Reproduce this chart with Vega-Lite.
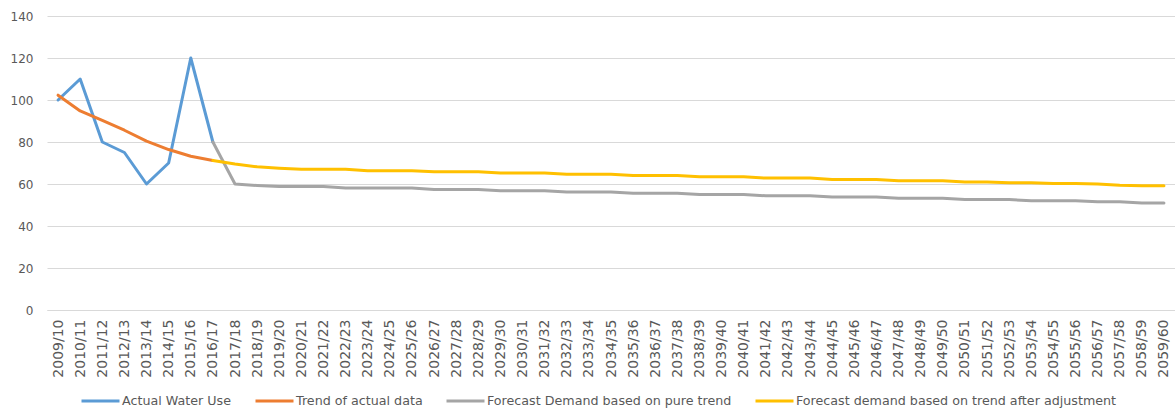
{
  "$schema": "https://vega.github.io/schema/vega-lite/v6.json",
  "width": 1128,
  "height": 294,
  "autosize": "none",
  "padding": {"left": 47, "top": 16, "right": 0, "bottom": 100},
  "background": "white",
  "config": {"view": {"stroke": null}, "font": "DejaVu Sans"},
  "data": {
    "values": [
      {"year": "2009/10", "series": "Actual Water Use", "value": 100},
      {"year": "2010/11", "series": "Actual Water Use", "value": 110},
      {"year": "2011/12", "series": "Actual Water Use", "value": 80},
      {"year": "2012/13", "series": "Actual Water Use", "value": 75},
      {"year": "2013/14", "series": "Actual Water Use", "value": 60},
      {"year": "2014/15", "series": "Actual Water Use", "value": 70},
      {"year": "2015/16", "series": "Actual Water Use", "value": 120},
      {"year": "2016/17", "series": "Actual Water Use", "value": 80},

      {"year": "2009/10", "series": "Trend of actual data", "value": 102.3},
      {"year": "2010/11", "series": "Trend of actual data", "value": 94.8},
      {"year": "2011/12", "series": "Trend of actual data", "value": 90.3},
      {"year": "2012/13", "series": "Trend of actual data", "value": 85.6},
      {"year": "2013/14", "series": "Trend of actual data", "value": 80.4},
      {"year": "2014/15", "series": "Trend of actual data", "value": 76.4},
      {"year": "2015/16", "series": "Trend of actual data", "value": 73.2},
      {"year": "2016/17", "series": "Trend of actual data", "value": 71.2},

      {"year": "2016/17", "series": "Forecast Demand based on pure trend", "value": 80},
      {"year": "2017/18", "series": "Forecast Demand based on pure trend", "value": 60},
      {"year": "2018/19", "series": "Forecast Demand based on pure trend", "value": 59.3},
      {"year": "2019/20", "series": "Forecast Demand based on pure trend", "value": 58.8},
      {"year": "2020/21", "series": "Forecast Demand based on pure trend", "value": 58.8},
      {"year": "2021/22", "series": "Forecast Demand based on pure trend", "value": 58.8},
      {"year": "2022/23", "series": "Forecast Demand based on pure trend", "value": 58.1},
      {"year": "2023/24", "series": "Forecast Demand based on pure trend", "value": 58.1},
      {"year": "2024/25", "series": "Forecast Demand based on pure trend", "value": 58.1},
      {"year": "2025/26", "series": "Forecast Demand based on pure trend", "value": 58.1},
      {"year": "2026/27", "series": "Forecast Demand based on pure trend", "value": 57.4},
      {"year": "2027/28", "series": "Forecast Demand based on pure trend", "value": 57.4},
      {"year": "2028/29", "series": "Forecast Demand based on pure trend", "value": 57.4},
      {"year": "2029/30", "series": "Forecast Demand based on pure trend", "value": 56.8},
      {"year": "2030/31", "series": "Forecast Demand based on pure trend", "value": 56.8},
      {"year": "2031/32", "series": "Forecast Demand based on pure trend", "value": 56.8},
      {"year": "2032/33", "series": "Forecast Demand based on pure trend", "value": 56.2},
      {"year": "2033/34", "series": "Forecast Demand based on pure trend", "value": 56.2},
      {"year": "2034/35", "series": "Forecast Demand based on pure trend", "value": 56.2},
      {"year": "2035/36", "series": "Forecast Demand based on pure trend", "value": 55.6},
      {"year": "2036/37", "series": "Forecast Demand based on pure trend", "value": 55.6},
      {"year": "2037/38", "series": "Forecast Demand based on pure trend", "value": 55.6},
      {"year": "2038/39", "series": "Forecast Demand based on pure trend", "value": 55.0},
      {"year": "2039/40", "series": "Forecast Demand based on pure trend", "value": 55.0},
      {"year": "2040/41", "series": "Forecast Demand based on pure trend", "value": 55.0},
      {"year": "2041/42", "series": "Forecast Demand based on pure trend", "value": 54.4},
      {"year": "2042/43", "series": "Forecast Demand based on pure trend", "value": 54.4},
      {"year": "2043/44", "series": "Forecast Demand based on pure trend", "value": 54.4},
      {"year": "2044/45", "series": "Forecast Demand based on pure trend", "value": 53.8},
      {"year": "2045/46", "series": "Forecast Demand based on pure trend", "value": 53.8},
      {"year": "2046/47", "series": "Forecast Demand based on pure trend", "value": 53.8},
      {"year": "2047/48", "series": "Forecast Demand based on pure trend", "value": 53.2},
      {"year": "2048/49", "series": "Forecast Demand based on pure trend", "value": 53.2},
      {"year": "2049/50", "series": "Forecast Demand based on pure trend", "value": 53.2},
      {"year": "2050/51", "series": "Forecast Demand based on pure trend", "value": 52.6},
      {"year": "2051/52", "series": "Forecast Demand based on pure trend", "value": 52.6},
      {"year": "2052/53", "series": "Forecast Demand based on pure trend", "value": 52.6},
      {"year": "2053/54", "series": "Forecast Demand based on pure trend", "value": 52.0},
      {"year": "2054/55", "series": "Forecast Demand based on pure trend", "value": 52.0},
      {"year": "2055/56", "series": "Forecast Demand based on pure trend", "value": 52.0},
      {"year": "2056/57", "series": "Forecast Demand based on pure trend", "value": 51.5},
      {"year": "2057/58", "series": "Forecast Demand based on pure trend", "value": 51.5},
      {"year": "2058/59", "series": "Forecast Demand based on pure trend", "value": 51.0},
      {"year": "2059/60", "series": "Forecast Demand based on pure trend", "value": 51.0},

      {"year": "2016/17", "series": "Forecast demand based on trend after adjustment", "value": 71.2},
      {"year": "2017/18", "series": "Forecast demand based on trend after adjustment", "value": 69.5},
      {"year": "2018/19", "series": "Forecast demand based on trend after adjustment", "value": 68.2},
      {"year": "2019/20", "series": "Forecast demand based on trend after adjustment", "value": 67.5},
      {"year": "2020/21", "series": "Forecast demand based on trend after adjustment", "value": 67.0},
      {"year": "2021/22", "series": "Forecast demand based on trend after adjustment", "value": 67.0},
      {"year": "2022/23", "series": "Forecast demand based on trend after adjustment", "value": 67.0},
      {"year": "2023/24", "series": "Forecast demand based on trend after adjustment", "value": 66.3},
      {"year": "2024/25", "series": "Forecast demand based on trend after adjustment", "value": 66.3},
      {"year": "2025/26", "series": "Forecast demand based on trend after adjustment", "value": 66.3},
      {"year": "2026/27", "series": "Forecast demand based on trend after adjustment", "value": 65.8},
      {"year": "2027/28", "series": "Forecast demand based on trend after adjustment", "value": 65.8},
      {"year": "2028/29", "series": "Forecast demand based on trend after adjustment", "value": 65.8},
      {"year": "2029/30", "series": "Forecast demand based on trend after adjustment", "value": 65.2},
      {"year": "2030/31", "series": "Forecast demand based on trend after adjustment", "value": 65.2},
      {"year": "2031/32", "series": "Forecast demand based on trend after adjustment", "value": 65.2},
      {"year": "2032/33", "series": "Forecast demand based on trend after adjustment", "value": 64.6},
      {"year": "2033/34", "series": "Forecast demand based on trend after adjustment", "value": 64.6},
      {"year": "2034/35", "series": "Forecast demand based on trend after adjustment", "value": 64.6},
      {"year": "2035/36", "series": "Forecast demand based on trend after adjustment", "value": 64.0},
      {"year": "2036/37", "series": "Forecast demand based on trend after adjustment", "value": 64.0},
      {"year": "2037/38", "series": "Forecast demand based on trend after adjustment", "value": 64.0},
      {"year": "2038/39", "series": "Forecast demand based on trend after adjustment", "value": 63.4},
      {"year": "2039/40", "series": "Forecast demand based on trend after adjustment", "value": 63.4},
      {"year": "2040/41", "series": "Forecast demand based on trend after adjustment", "value": 63.4},
      {"year": "2041/42", "series": "Forecast demand based on trend after adjustment", "value": 62.8},
      {"year": "2042/43", "series": "Forecast demand based on trend after adjustment", "value": 62.8},
      {"year": "2043/44", "series": "Forecast demand based on trend after adjustment", "value": 62.8},
      {"year": "2044/45", "series": "Forecast demand based on trend after adjustment", "value": 62.2},
      {"year": "2045/46", "series": "Forecast demand based on trend after adjustment", "value": 62.2},
      {"year": "2046/47", "series": "Forecast demand based on trend after adjustment", "value": 62.2},
      {"year": "2047/48", "series": "Forecast demand based on trend after adjustment", "value": 61.6},
      {"year": "2048/49", "series": "Forecast demand based on trend after adjustment", "value": 61.6},
      {"year": "2049/50", "series": "Forecast demand based on trend after adjustment", "value": 61.6},
      {"year": "2050/51", "series": "Forecast demand based on trend after adjustment", "value": 61.0},
      {"year": "2051/52", "series": "Forecast demand based on trend after adjustment", "value": 61.0},
      {"year": "2052/53", "series": "Forecast demand based on trend after adjustment", "value": 60.6},
      {"year": "2053/54", "series": "Forecast demand based on trend after adjustment", "value": 60.6},
      {"year": "2054/55", "series": "Forecast demand based on trend after adjustment", "value": 60.2},
      {"year": "2055/56", "series": "Forecast demand based on trend after adjustment", "value": 60.2},
      {"year": "2056/57", "series": "Forecast demand based on trend after adjustment", "value": 60.0},
      {"year": "2057/58", "series": "Forecast demand based on trend after adjustment", "value": 59.4},
      {"year": "2058/59", "series": "Forecast demand based on trend after adjustment", "value": 59.2},
      {"year": "2059/60", "series": "Forecast demand based on trend after adjustment", "value": 59.2}
    ]
  },
  "mark": {"type": "line", "strokeWidth": 3, "strokeJoin": "round", "strokeCap": "round"},
  "encoding": {
    "x": {
      "field": "year",
      "type": "ordinal",
      "scale": {"type": "point", "padding": 0.5},
      "axis": {
        "title": null,
        "labelAngle": 270,
        "labelFontSize": 14,
        "labelColor": "#595959",
        "labelOverlap": false,
        "labelPadding": 9,
        "ticks": false,
        "grid": false,
        "domainColor": "#D9D9D9",
        "domainWidth": 1
      }
    },
    "y": {
      "field": "value",
      "type": "quantitative",
      "scale": {"domain": [0, 140], "nice": false},
      "axis": {
        "title": null,
        "values": [0, 20, 40, 60, 80, 100, 120, 140],
        "domain": false,
        "ticks": false,
        "gridColor": "#D9D9D9",
        "gridWidth": 1,
        "labelFontSize": 12,
        "labelColor": "#595959",
        "labelPadding": 14
      }
    },
    "color": {
      "field": "series",
      "type": "nominal",
      "scale": {
        "domain": [
          "Actual Water Use",
          "Trend of actual data",
          "Forecast Demand based on pure trend",
          "Forecast demand based on trend after adjustment"
        ],
        "range": ["#5B9BD5", "#ED7D31", "#A5A5A5", "#FFC000"]
      },
      "legend": {
        "title": null,
        "orient": "none",
        "direction": "horizontal",
        "legendX": 33,
        "legendY": 364,
        "symbolType": "stroke",
        "symbolSize": 1444,
        "symbolStrokeWidth": 3,
        "labelFontSize": 12.7,
        "labelColor": "#595959",
        "labelOffset": 1,
        "labelLimit": 400,
        "columnPadding": 17
      }
    }
  }
}
